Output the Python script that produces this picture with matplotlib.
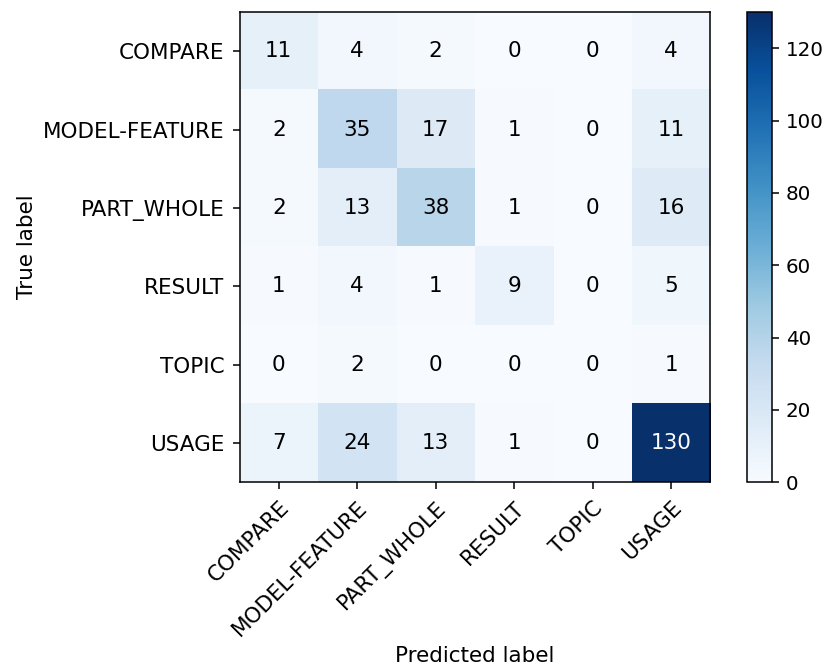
import numpy as np
import matplotlib
matplotlib.use("Agg")
import matplotlib.pyplot as plt

classes = ["COMPARE", "MODEL-FEATURE", "PART_WHOLE", "RESULT", "TOPIC", "USAGE"]
cm = np.array([
    [11, 4, 2, 0, 0, 4],
    [2, 35, 17, 1, 0, 11],
    [2, 13, 38, 1, 0, 16],
    [1, 4, 1, 9, 0, 5],
    [0, 2, 0, 0, 0, 1],
    [7, 24, 13, 1, 0, 130],
])

fs = 15.5
fig = plt.figure(figsize=(8.26, 6.68), dpi=100)
ax = fig.add_axes([0.29, 0.278, 0.57, 0.704])
cax = fig.add_axes([0.904, 0.278, 0.0303, 0.704])

im = ax.imshow(cm, interpolation="nearest", cmap=plt.cm.Blues, aspect="auto")
cb = fig.colorbar(im, cax=cax)
cb.ax.tick_params(labelsize=14.3, length=5, width=1.1, pad=5)
cb.outline.set_linewidth(1.1)

ticks = np.arange(len(classes))
ax.set_xticks(ticks)
ax.set_xticklabels(classes, rotation=45, ha="right", rotation_mode="anchor", fontsize=fs)
ax.set_yticks(ticks)
ax.set_yticklabels(classes, fontsize=fs)
ax.tick_params(length=5, width=1.1, pad=6)
for sp in ax.spines.values():
    sp.set_linewidth(1.1)

thresh = cm.max() / 2.
for i in range(cm.shape[0]):
    for j in range(cm.shape[1]):
        ax.text(j, i, format(cm[i, j], "d"), ha="center", va="center",
                fontsize=fs, color="white" if cm[i, j] > thresh else "black")

ax.set_ylabel("True label", fontsize=fs)
ax.set_xlabel("Predicted label", fontsize=fs)

fig.savefig("out.png", dpi=100)
